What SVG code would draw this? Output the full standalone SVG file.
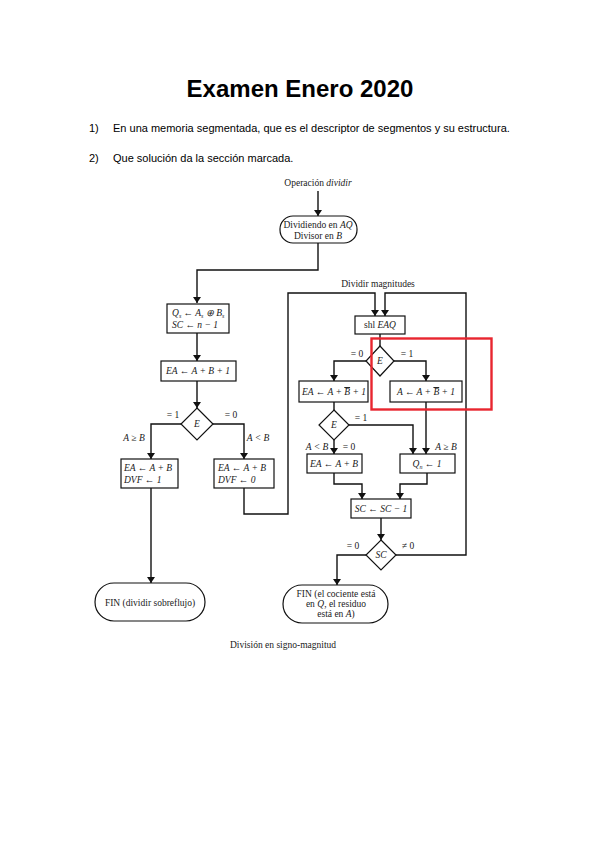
<svg xmlns="http://www.w3.org/2000/svg" width="600" height="848" viewBox="0 0 600 848">
<style>
.h{font-family:"Liberation Sans",Arial,sans-serif;fill:#000}
.t{font-family:"Liberation Serif","Times New Roman",serif;font-size:9.5px;fill:#1a1a1a}
.m{font-style:italic}
.c{text-anchor:middle}
.ov{text-decoration:overline}
.b{fill:#fff;stroke:#111;stroke-width:1.2}
.w{fill:none;stroke:#111;stroke-width:1.4}
</style>
<defs>
<marker id="ar" viewBox="0 0 6 8" refX="6" refY="4" markerWidth="6" markerHeight="8" markerUnits="userSpaceOnUse" orient="auto">
<path d="M0,0 L6,4 L0,8 z" fill="#111"/>
</marker>
</defs>
<rect width="600" height="848" fill="#fff"/>
<text class="h c" x="300" y="97" font-size="24" font-weight="bold">Examen Enero 2020</text>
<text class="h" x="89" y="132" font-size="11">1)</text>
<text class="h" x="113" y="132" font-size="11">En una memoria segmentada, que es el descriptor de segmentos y su estructura.</text>
<text class="h" x="89" y="162" font-size="11">2)</text>
<text class="h" x="113" y="162" font-size="11">Que solución da la sección marcada.</text>

<g id="connectors">
<path class="w" d="M318,191 V216" marker-end="url(#ar)"/>
<path class="w" d="M318,243 V270 H197 V303" marker-end="url(#ar)"/>
<path class="w" d="M197,333 V361" marker-end="url(#ar)"/>
<path class="w" d="M197,381 V408" marker-end="url(#ar)"/>
<path class="w" d="M181,424 H151 V459" marker-end="url(#ar)"/>
<path class="w" d="M213,424 H244 V459" marker-end="url(#ar)"/>
<path class="w" d="M151,488 V583" marker-end="url(#ar)"/>
<path class="w" d="M244,488 V514 H288 V293 H375 V316" marker-end="url(#ar)"/>
<path class="w" d="M396,555 H466 V293 H385 V316" marker-end="url(#ar)"/>
<path class="w" d="M380,334 V346"/>
<path class="w" d="M366,361 H334 V381" marker-end="url(#ar)"/>
<path class="w" d="M394,361 H426 V381" marker-end="url(#ar)"/>
<path class="w" d="M334,402 V410"/>
<path class="w" d="M349,425 H413 V454" marker-end="url(#ar)"/>
<path class="w" d="M426,402 V454" marker-end="url(#ar)"/>
<path class="w" d="M334,440 V454" marker-end="url(#ar)"/>
<path class="w" d="M334,473 V484 H362 V499" marker-end="url(#ar)"/>
<path class="w" d="M427,473 V484 H400 V499" marker-end="url(#ar)"/>
<path class="w" d="M381,518 V540" marker-end="url(#ar)"/>
<path class="w" d="M366,555 H337 V585" marker-end="url(#ar)"/>
</g>

<text class="t c" x="318" y="186" font-size="9">Operación <tspan class="m">dividir</tspan></text>
<text class="t c" x="378" y="287" font-size="10">Dividir magnitudes</text>

<g id="start">
<rect class="b" x="280" y="216" width="77" height="27" rx="13"/>
<text class="t c" x="318" y="228" font-size="8.8">Dividiendo en <tspan class="m">AQ</tspan></text>
<text class="t c" x="318" y="239" font-size="8.8">Divisor en <tspan class="m">B</tspan></text>
</g>
<g id="sign">
<rect class="b" x="167" y="304" width="62" height="29"/>
<text class="t m" x="172" y="316">Q<tspan font-size="6" dy="2">s</tspan><tspan dy="-2"> ← A</tspan><tspan font-size="6" dy="2">s</tspan><tspan dy="-2"> ⊕ B</tspan><tspan font-size="6" dy="2">s</tspan></text>
<text class="t m" x="172" y="328">SC ← n − 1</text>
</g>
<g id="test1">
<rect class="b" x="161" y="361" width="75" height="20"/>
<text class="t m c" x="198" y="374">EA ← A + B + 1</text>
</g>
<g id="dE1">
<path class="b" d="M197,408 L213,424 L197,440 L181,424 z"/>
<text class="t m c" x="197" y="427">E</text>
</g>
<text class="t c" x="173" y="418">= 1</text>
<text class="t c" x="231" y="418">= 0</text>
<text class="t m c" x="134" y="441">A ≥ B</text>
<text class="t m c" x="258" y="441">A &lt; B</text>
<g id="ovf1">
<rect class="b" x="121" y="459" width="57" height="29"/>
<text class="t m" x="124" y="471">EA ← A + B</text>
<text class="t m" x="124" y="483">DVF ← 1</text>
</g>
<g id="ovf0">
<rect class="b" x="214" y="459" width="60" height="29"/>
<text class="t m" x="218" y="471">EA ← A + B</text>
<text class="t m" x="218" y="483">DVF ← 0</text>
</g>
<g id="fin1">
<rect class="b" x="95" y="583" width="110" height="38" rx="19"/>
<text class="t c" x="150" y="606">FIN (dividir sobreflujo)</text>
</g>
<g id="shl">
<rect class="b" x="355" y="316" width="50" height="18"/>
<text class="t c" x="380" y="328">shl <tspan class="m">EAQ</tspan></text>
</g>
<g id="dE2">
<path class="b" d="M380,346 L394,361 L380,376 L366,361 z"/>
<text class="t m c" x="380" y="364">E</text>
</g>
<text class="t c" x="357" y="357">= 0</text>
<text class="t c" x="407" y="357">= 1</text>
<g id="sub1">
<rect class="b" x="299" y="381" width="69" height="21"/>
<text class="t m c" x="334" y="395">EA ← A + <tspan class="ov">B</tspan> + 1</text>
</g>
<g id="sub2">
<rect class="b" x="390" y="381" width="72" height="21"/>
<text class="t m c" x="426" y="395">A ← A + <tspan class="ov">B</tspan> + 1</text>
</g>
<g id="dE3">
<path class="b" d="M334,410 L349,425 L334,440 L319,425 z"/>
<text class="t m c" x="334" y="428">E</text>
</g>
<text class="t c" x="361" y="421">= 1</text>
<text class="t m c" x="317" y="450">A &lt; B</text>
<text class="t c" x="349" y="450">= 0</text>
<text class="t m c" x="446" y="450">A ≥ B</text>
<g id="restore">
<rect class="b" x="307" y="454" width="55" height="19"/>
<text class="t m c" x="334" y="467">EA ← A + B</text>
</g>
<g id="qn">
<rect class="b" x="400" y="454" width="55" height="19"/>
<text class="t m c" x="427" y="467">Q<tspan font-size="6" dy="2">n</tspan><tspan dy="-2"> ← 1</tspan></text>
</g>
<g id="dec">
<rect class="b" x="351" y="499" width="60" height="19"/>
<text class="t m c" x="381" y="512">SC ← SC − 1</text>
</g>
<g id="dSC">
<path class="b" d="M381,540 L396,555 L381,570 L366,555 z"/>
<text class="t m c" x="381" y="558">SC</text>
</g>
<text class="t c" x="353" y="549">= 0</text>
<text class="t c" x="408" y="549">≠ 0</text>
<g id="fin2">
<rect class="b" x="283" y="585" width="105" height="38" rx="19"/>
<text class="t c" x="336" y="597">FIN (el cociente está</text>
<text class="t c" x="336" y="607">en <tspan class="m">Q</tspan>, el residuo</text>
<text class="t c" x="336" y="617">está en <tspan class="m">A</tspan>)</text>
</g>
<text class="t c" x="283" y="648" font-size="12">División en signo-magnitud</text>
<rect x="371.5" y="338.5" width="120" height="71" fill="none" stroke="#e8262f" stroke-width="2.4"/>
</svg>
